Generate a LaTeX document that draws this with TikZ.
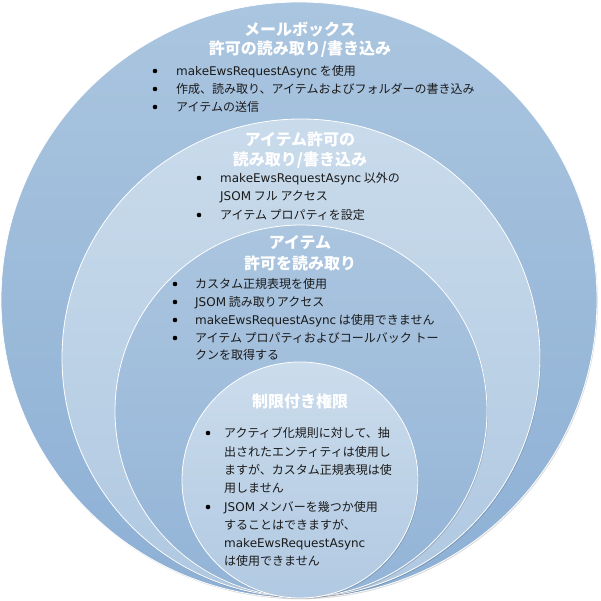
\documentclass[tikz,border=0pt]{standalone}
\usepackage{fontspec}
\setmainfont{Noto Sans CJK JP}
\newfontfamily\latfont{DejaVu Sans}
\newcommand\lt[1]{{\latfont #1}}
\definecolor{ringAtop}{HTML}{AAC5DF}
\definecolor{ringAbot}{HTML}{8DB0D5}
\definecolor{ringBtop}{HTML}{C9DBEB}
\definecolor{ringBbot}{HTML}{AFC8E1}
\definecolor{ringCtop}{HTML}{ABC5DF}
\definecolor{ringCbot}{HTML}{93B4D7}
\definecolor{ringDtop}{HTML}{CBDCEC}
\definecolor{ringDbot}{HTML}{B1C9E2}
\definecolor{bodytext}{HTML}{1A1A1A}
\begin{document}
\begin{tikzpicture}[x=1pt,y=-1pt,
  ring/.style={draw=white, line width=0.8pt},
  ringshadow/.style={fill=black, opacity=0.15, xshift=0.8pt, yshift=-1.2pt},
  heading/.style={text=white, font=\fontsize{16}{20}\selectfont\bfseries, anchor=base, inner sep=0pt},
  itemtext/.style={text=bodytext, font=\fontsize{12}{18}\selectfont, anchor=base west, inner sep=0pt},
  dot/.style={circle, fill=black, inner sep=0pt, minimum size=4.6pt}]
\useasboundingbox (0,0) rectangle (600,601);

% nested permission rings, all touching at the bottom
\fill[ringshadow] (299,300) circle (298pt);
\shade[ring, top color=ringAtop, bottom color=ringAbot] (299,300) circle (298pt);
\fill[ringshadow] (301,358) circle (239pt);
\shade[ring, top color=ringBtop, bottom color=ringBbot] (301,358) circle (239pt);
\fill[ringshadow] (301,411) circle (186pt);
\shade[ring, top color=ringCtop, bottom color=ringCbot] (301,411) circle (186pt);
\fill[ringshadow] (300,480) circle (118pt);
\shade[ring, top color=ringDtop, bottom color=ringDbot] (300,480) circle (118pt);

% mailbox read/write
\node[heading] (ta1) at (300,36) {メールボックス};
\node[heading] (ta2) at (300,55) {許可の読み取り/書き込み};
\node[dot] (da1) at (155,71) {};
\node[itemtext] (ia1) at (176,75.5) {\lt{makeEwsRequestAsync} を使用};
\node[dot] (da2) at (155,89) {};
\node[itemtext] (ia2) at (176,93.5) {作成、読み取り、アイテムおよびフォルダーの書き込み};
\node[dot] (da3) at (155,107) {};
\node[itemtext] (ia3) at (176,111.5) {アイテムの送信};

% item read/write
\node[heading] (tb1) at (300,146) {アイテム許可の};
\node[heading] (tb2) at (300,166) {読み取り/書き込み};
\node[dot] (db1) at (199,178) {};
\node[itemtext] (ib1) at (220,182.5) {\lt{makeEwsRequestAsync} 以外の};
\node[itemtext] (ib1b) at (220,200.5) {\lt{JSOM} フル アクセス};
\node[dot] (db2) at (199,215) {};
\node[itemtext] (ib2) at (220,219.5) {アイテム プロパティを設定};

% item read
\node[heading] (tc1) at (300,248) {アイテム};
\node[heading] (tc2) at (300,269) {許可を読み取り};
\node[dot] (dc1) at (175,284) {};
\node[itemtext] (ic1) at (195,288.5) {カスタム正規表現を使用};
\node[dot] (dc2) at (175,302) {};
\node[itemtext] (ic2) at (195,306.5) {\lt{JSOM} 読み取りアクセス};
\node[dot] (dc3) at (175,320) {};
\node[itemtext] (ic3) at (195,324.5) {\lt{makeEwsRequestAsync} は使用できません};
\node[dot] (dc4) at (175,338) {};
\node[itemtext] (ic4) at (195,342.5) {アイテム プロパティおよびコールバック トー};
\node[itemtext] (ic4b) at (195,359.5) {クンを取得する};

% restricted
\node[heading] (td1) at (300,407) {制限付き権限};
\node[dot] (dd1) at (208,433) {};
\node[itemtext] (id1) at (224,437.5) {アクティブ化規則に対して、抽};
\node[itemtext] (id1b) at (224,456.5) {出されたエンティティは使用し};
\node[itemtext] (id1c) at (224,474.5) {ますが、カスタム正規表現は使};
\node[itemtext] (id1d) at (224,492.5) {用しません};
\node[dot] (dd2) at (208,507) {};
\node[itemtext] (id2) at (224,511.5) {\lt{JSOM} メンバーを幾つか使用};
\node[itemtext] (id2b) at (224,529.5) {することはできますが、};
\node[itemtext] (id2c) at (224,547.5) {\lt{makeEwsRequestAsync}};
\node[itemtext] (id2d) at (224,565.5) {は使用できません};
\end{tikzpicture}
\end{document}
